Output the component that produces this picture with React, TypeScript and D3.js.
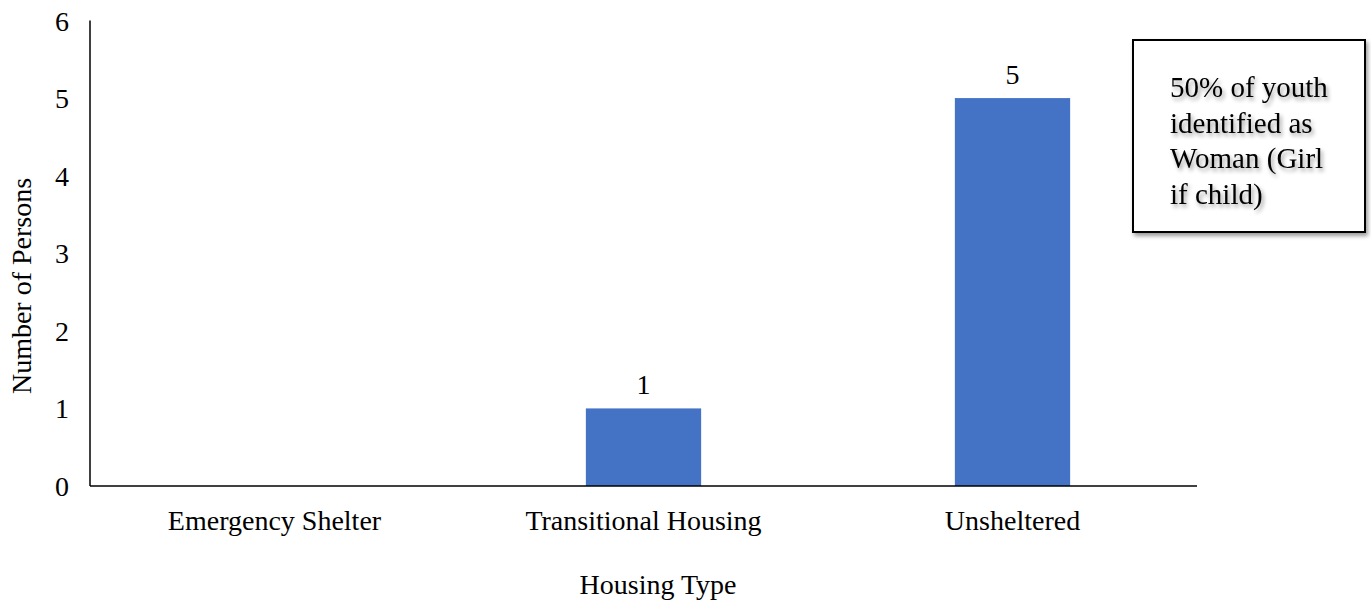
import React from "react";
import * as d3 from "d3";

const categories = ["Emergency Shelter", "Transitional Housing", "Unsheltered"];
const values = [0, 1, 5];
const yTicks = [0, 1, 2, 3, 4, 5, 6];
const noteLines = ["50% of youth", "identified as", "Woman (Girl", "if child)"];

export default function App() {
  const W = 1371, H = 603;
  const left = 90, right = 1197, top = 20.5, bottom = 486;
  const x = d3.scaleBand().domain(categories).range([left, right]).paddingInner(0.6876).paddingOuter(0.3438);
  const y = d3.scaleLinear().domain([0, 6]).range([bottom, top]);
  const font = "'Liberation Serif', 'Times New Roman', serif";
  const fs = 28;
  return (
    <svg width={W} height={H} style={{ position: "absolute", left: 0, top: 0 }}>
      <defs>
        <filter id="sh" x="-20%" y="-20%" width="140%" height="140%">
          <feGaussianBlur in="SourceAlpha" stdDeviation="2" />
          <feOffset dx="2" dy="3" result="b" />
          <feComponentTransfer><feFuncA type="linear" slope="0.4" /></feComponentTransfer>
          <feMerge><feMergeNode /><feMergeNode in="SourceGraphic" /></feMerge>
        </filter>
      </defs>
      <rect width={W} height={H} fill="#fff" />
      {categories.map((c, i) => (
        values[i] > 0 ? (
          <rect key={c} x={x(c)} y={y(values[i])} width={x.bandwidth()} height={y(0) - y(values[i])} fill="#4472C4" />
        ) : null
      ))}
      {categories.map((c, i) => (
        values[i] > 0 ? (
          <text key={"l" + c} x={(x(c) as number) + x.bandwidth() / 2} y={y(values[i]) - 14} textAnchor="middle" fontFamily={font} fontSize={fs} fill="#000">{values[i]}</text>
        ) : null
      ))}
      <line x1={left} x2={left} y1={top} y2={bottom} stroke="#000" strokeWidth={1.5} />
      <line x1={left} x2={right} y1={bottom} y2={bottom} stroke="#000" strokeWidth={1.5} />
      {yTicks.map(t => (
        <text key={t} x={69} y={y(t) + 10} textAnchor="end" fontFamily={font} fontSize={fs} fill="#000">{t}</text>
      ))}
      {categories.map(c => (
        <text key={"c" + c} x={(x(c) as number) + x.bandwidth() / 2} y={530} textAnchor="middle" fontFamily={font} fontSize={fs} fill="#000">{c}</text>
      ))}
      <text x={658} y={594} textAnchor="middle" fontFamily={font} fontSize={fs} fill="#000">Housing Type</text>
      <text transform={`translate(31,286) rotate(-90)`} textAnchor="middle" fontFamily={font} fontSize={fs} fill="#000">Number of Persons</text>
      <rect x={1133} y={40} width={232} height={192} fill="#fff" stroke="#000" strokeWidth={2} filter="url(#sh)" />
      <g filter="url(#sh)">
        {noteLines.map((l, i) => (
          <text key={l} x={1170} y={97 + i * 35.5} fontFamily={font} fontSize={29} fill="#000">{l}</text>
        ))}
      </g>
    </svg>
  );
}
